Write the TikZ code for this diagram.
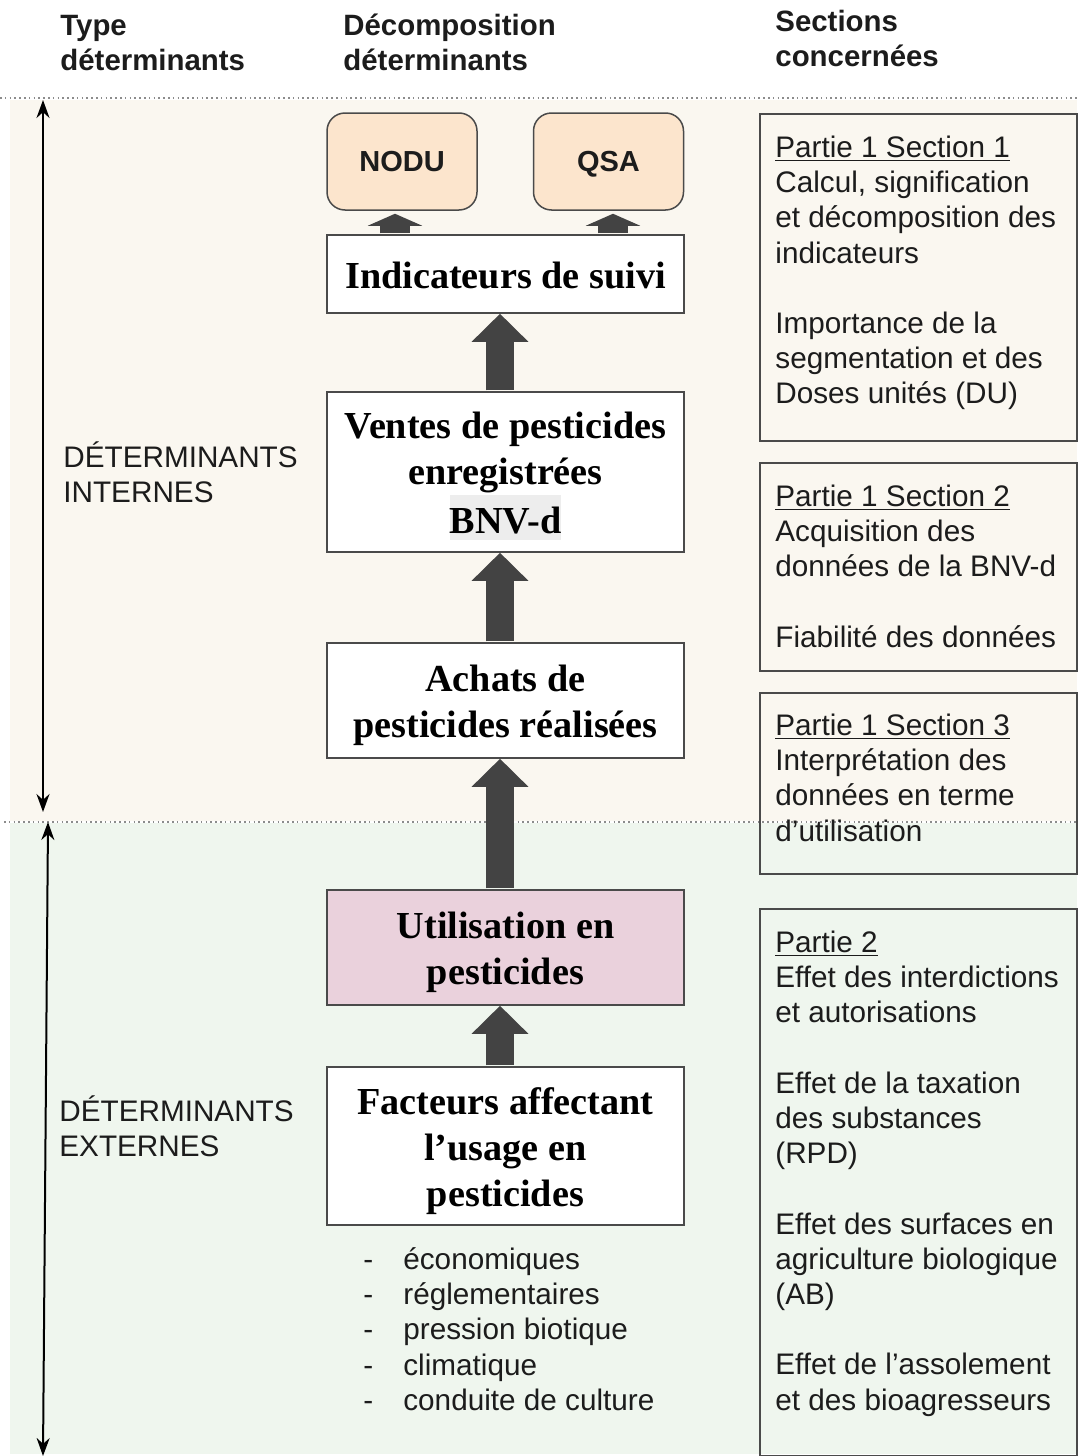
\documentclass[tikz,border=0pt]{standalone}
\usepackage{fontspec}
\setmainfont{Liberation Sans}
\newfontfamily\serifbold{Liberation Serif}
\usetikzlibrary{arrows.meta,calc}
\definecolor{beigebg}{HTML}{FAF7F0}
\definecolor{greenbg}{HTML}{EFF6EE}
\definecolor{peach}{HTML}{FCE5CD}
\definecolor{pinkf}{HTML}{EAD1DC}
\definecolor{arrowgray}{HTML}{434343}
\definecolor{boxline}{HTML}{4A4A4A}
\definecolor{hl}{HTML}{EDEDED}
\definecolor{txt}{HTML}{1C1C1C}
\setlength{\fboxsep}{0pt}
\newcommand\myTopStrut{\rule{0pt}{18.5pt}}
\newcommand\myBotStrut{\rule[-4.5pt]{0pt}{4.5pt}}
\begin{document}
\begin{tikzpicture}[x=0.5pt,y=-0.5pt,
  mainbox/.style={draw=boxline, line width=0.75pt, fill=white, minimum width=178.5pt, inner sep=0pt, align=center, text=black, font=\serifbold\bfseries\fontsize{19.1pt}{23pt}\selectfont},
  topbox/.style={draw=boxline, line width=0.75pt, fill=peach, rounded corners=9pt, minimum width=75pt, minimum height=48.5pt, inner sep=0pt, text height=10.4pt, text depth=0pt, text=txt, font=\bfseries\fontsize{14.5pt}{17.5pt}\selectfont},
  secbox/.style={draw=boxline, line width=0.75pt, minimum width=158.5pt, inner sep=0pt, anchor=north west},
  sectext/.style={anchor=north west, inner sep=0pt, align=left, text=txt, font=\fontsize{14.85pt}{17.6pt}\selectfont},
  hdr/.style={anchor=north west, inner sep=0pt, align=left, text=txt, font=\bfseries\fontsize{14.7pt}{17.5pt}\selectfont},
  bigarrow/.style={draw=arrowgray, line width=14pt, shorten <=0.4pt, -{Triangle[width=27.5pt,length=14pt]}},
  smallarrow/.style={draw=arrowgray, line width=15pt, shorten <=0.4pt, -{Triangle[width=27pt,length=6pt]}},
  dblarrow/.style={draw=black, line width=1pt, {Stealth[length=9pt,width=6.5pt]}-{Stealth[length=9pt,width=6.5pt]}},
  dotline/.style={draw=black!45, line width=0.6pt, dash pattern=on 0.8pt off 1.6pt}
]
\useasboundingbox (0,0) rectangle (1077,1456);
% background bands
\fill[beigebg] (10,100) rectangle (1077,821);
\fill[greenbg] (10,823) rectangle (1077,1454);
\draw[dotline] (0,98) -- (1077,98);
\draw[dotline] (4,822) -- (1077,822);

% headers
\node[hdr] (h1) at (60,10.5) {\strut Type\\déterminants};
\node[hdr] (h2) at (343,10.5) {\strut Décomposition\\déterminants};
\node[hdr] (h3) at (775,6.5) {\strut Sections\\concernées};

% left labels and arrows
\node[sectext] (li) at (63,441.4) {\strut DÉTERMINANTS\\INTERNES};
\node[sectext] (le) at (59,1095.4) {\strut DÉTERMINANTS\\EXTERNES};
\coordinate (la1) at (43,100);
\coordinate (la2) at (43,812);
\coordinate (lb1) at (48,822);
\coordinate (lb2) at (43,1456);
\draw[dblarrow] (la1) -- (la2);
\draw[dblarrow] (lb1) -- (lb2);

% central chain
\node[topbox] (nodu) at (402,161.5) {NODU};
\node[topbox] (qsa) at (608.5,161.5) {QSA};
\node[mainbox, minimum height=39pt] (ind) at (505.5,274) {\myTopStrut Indicateurs de suivi\myBotStrut};
\node[mainbox, minimum height=80pt] (ventes) at (505.5,472) {\myTopStrut Ventes de pesticides\\enregistrées\\\colorbox{hl}{\rule[-3.5pt]{0pt}{22.5pt}BNV-d}\myBotStrut};
\node[mainbox, minimum height=57.5pt] (achats) at (505.5,700.5) {\myTopStrut Achats de\\pesticides réalisées\myBotStrut};
\node[mainbox, fill=pinkf, minimum height=57.5pt] (util) at (505.5,947.5) {\myTopStrut Utilisation en\\pesticides\myBotStrut};
\node[mainbox, minimum height=79pt] (fact) at (505.5,1146) {\myTopStrut Facteurs affectant\\l’usage en\\pesticides\myBotStrut};

\coordinate (ax) at (500,0);
\coordinate (a1) at (395,0);
\coordinate (a2) at (613,0);
\draw[bigarrow] (ventes.north -| ax) -- (ind.south -| ax);
\draw[bigarrow] (achats.north -| ax) -- (ventes.south -| ax);
\draw[bigarrow] (util.north -| ax) -- (achats.south -| ax);
\draw[bigarrow] (fact.north -| ax) -- (util.south -| ax);
\draw[smallarrow] (ind.north -| a1) -- ($(nodu.south -| a1)+(0,3)$);
\draw[smallarrow] (ind.north -| a2) -- ($(qsa.south -| a2)+(0,3)$);

% list of factors
\node[sectext] (lst) at (363,1244.4) {\strut\makebox[20pt][l]{-}économiques\\\makebox[20pt][l]{-}réglementaires\\\makebox[20pt][l]{-}pression biotique\\\makebox[20pt][l]{-}climatique\\\makebox[20pt][l]{-}conduite de culture};

% section boxes
\node[secbox, minimum height=163.5pt] (s1) at (759,113) {};
\node[secbox, minimum height=104pt] (s2) at (759,462) {};
\node[secbox, minimum height=90.5pt] (s3) at (759,692) {};
\node[secbox, minimum height=273.5pt] (s4) at (759,908) {};
\node[sectext] (t1) at (775,132.4) {\strut\underline{Partie 1 Section 1}\\Calcul, signification\\et décomposition des\\indicateurs\\[17.6pt]Importance de la\\segmentation et des\\Doses unités (DU)};
\node[sectext] (t2) at (775,481.4) {\strut\underline{Partie 1 Section 2}\\Acquisition des\\données de la BNV-d\\[17.6pt]Fiabilité des données};
\node[sectext] (t3) at (775,710.4) {\strut\underline{Partie 1 Section 3}\\Interprétation des\\données en terme\\d’utilisation};
\node[sectext] (t4) at (775,927.4) {\strut\underline{Partie 2}\\Effet des interdictions\\et autorisations\\[17.6pt]Effet de la taxation\\des substances\\(RPD)\\[17.6pt]Effet des surfaces en\\agriculture biologique\\(AB)\\[17.6pt]Effet de l’assolement\\et des bioagresseurs};
\end{tikzpicture}
\end{document}
